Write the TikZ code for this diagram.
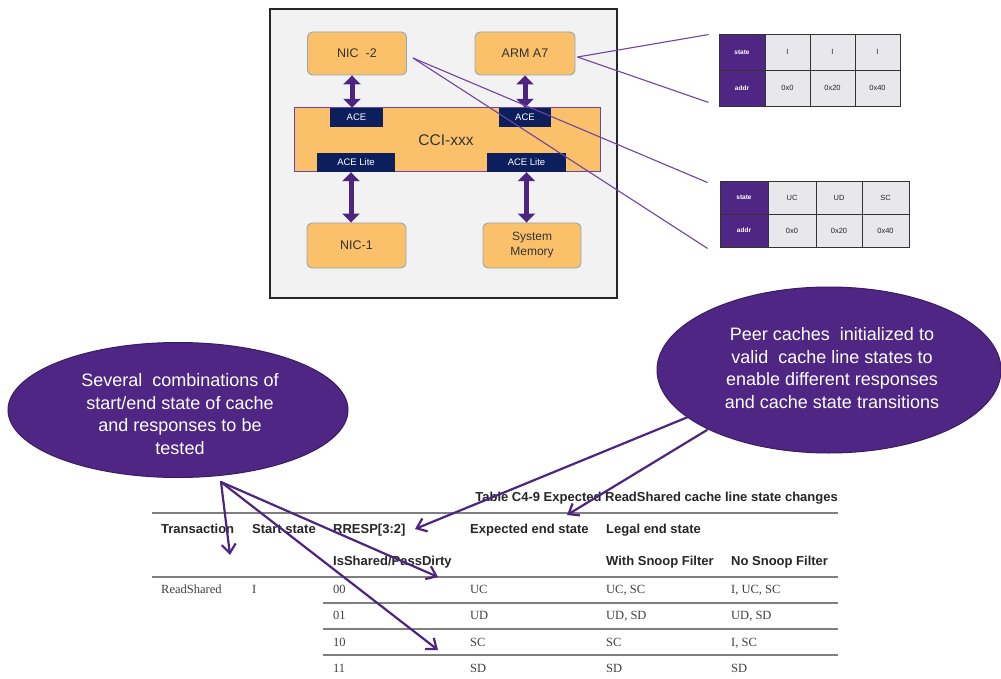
\documentclass[tikz,border=0pt]{standalone}
\usepackage{fontspec}
\setmainfont{Liberation Serif}
\setsansfont{Liberation Sans}
\usetikzlibrary{arrows.meta,shapes.geometric,calc}

\definecolor{panelgray}{HTML}{F2F2F2}
\definecolor{blockfill}{HTML}{FAC06A}
\definecolor{blockedge}{HTML}{8FA9B6}
\definecolor{portnavy}{HTML}{0C1F5C}
\definecolor{linkpurple}{HTML}{4C2580}
\definecolor{thinpurple}{HTML}{6E44A2}
\definecolor{bubblepurple}{HTML}{4F2683}
\definecolor{bubbleedge}{HTML}{3A1C63}
\definecolor{cellgray}{HTML}{E8E8EC}
\definecolor{rulegray}{HTML}{7F7F7F}

\tikzset{
  block/.style={draw=blockedge, line width=0.9pt, fill=blockfill, rounded corners=5pt,
    inner sep=0pt, align=center, text=black!80, font=\sffamily\fontsize{12.5}{14}\selectfont},
  port/.style={fill=portnavy, inner sep=0pt, text=white, font=\sffamily\fontsize{9.5}{11}\selectfont},
  busbar/.style={draw=thinpurple, line width=1pt, fill=blockfill, inner sep=0pt,
    text=black!80, font=\sffamily\fontsize{15.5}{18}\selectfont},
  biarrow/.style={linkpurple, line width=5pt,
    {Triangle[width=17pt,length=9pt]}-{Triangle[width=17pt,length=9pt]}},
  tapline/.style={thinpurple, line width=1.1pt},
  keycell/.style={draw=black!80, line width=0.9pt, fill=bubblepurple, inner sep=0pt,
    text=white, font=\sffamily\bfseries\fontsize{6.5}{7}\selectfont},
  valcell/.style={draw=black!80, line width=0.9pt, fill=cellgray, inner sep=0pt,
    text=black!85, font=\sffamily\fontsize{7.5}{8}\selectfont},
  bubble/.style={ellipse, fill=bubblepurple, draw=bubbleedge, line width=1pt, inner sep=0pt},
  bubbletext/.style={align=center, text=white, inner sep=0pt,
    font=\sffamily\fontsize{18}{22.8}\selectfont},
  pointer/.style={linkpurple, line width=2.2pt, line cap=round,
    -{Straight Barb[length=9pt,width=14pt,line width=2.2pt]}},
  head/.style={anchor=base west, inner sep=0pt, text=black!85,
    font=\sffamily\bfseries\fontsize{13}{15}\selectfont},
  cell/.style={anchor=base west, inner sep=0pt, text=black!75,
    font=\rmfamily\fontsize{12.5}{14}\selectfont},
  rule/.style={rulegray, line width=1.6pt}
}

\begin{document}
\begin{tikzpicture}[x=1pt,y=-1pt]
\useasboundingbox (0,0) rectangle (1001,679);
\fill[white] (0,0) rectangle (1001,679);

% ---------- system block diagram ----------
\draw[black!85, line width=1.6pt, fill=panelgray] (270,9) rectangle (617,298);

\node[block, minimum width=99pt, minimum height=43pt] (nic2) at (357,53.5) {NIC \ -2};
\node[block, minimum width=100pt, minimum height=43pt] (arm) at (525,53.5) {ARM A7};
\node[busbar, minimum width=306pt, minimum height=64pt] (cci) at (447,140) {};
\node[text=black!80, font=\sffamily\fontsize{15.5}{18}\selectfont, inner sep=0pt] (ccilabel) at (446,140) {CCI-xxx};
\node[port, minimum width=53pt, minimum height=19pt] (aceA) at (356.5,117.5) {ACE};
\node[port, minimum width=52pt, minimum height=19pt] (aceB) at (525,117.5) {ACE};
\node[port, minimum width=78pt, minimum height=19pt] (liteA) at (356,162.5) {ACE Lite};
\node[port, minimum width=79pt, minimum height=19pt] (liteB) at (526.5,162.5) {ACE Lite};
\node[block, minimum width=99pt, minimum height=45pt] (nic1) at (356.5,245.5) {NIC-1};
\node[block, minimum width=98pt, minimum height=45pt, font=\sffamily\fontsize{12}{15}\selectfont] (mem) at (532,245.5) {System\\Memory};

\draw[biarrow] ([xshift=-5pt]nic2.south) -- ([xshift=-5pt]nic2.south |- aceA.north);
\draw[biarrow] (arm.south) -- (arm.south |- aceB.north);
\draw[biarrow] ([xshift=-5pt]liteA.south) -- ([xshift=-5pt]liteA.south |- nic1.north);
\draw[biarrow] (liteB.south) -- (liteB.south |- mem.north);

% ---------- cache line tables ----------
\node[keycell, minimum width=46pt, minimum height=36pt] (t1k1) at (742,52) {state};
\node[valcell, minimum width=45pt, minimum height=36pt] (t1a1) at (787.5,52) {I};
\node[valcell, minimum width=45pt, minimum height=36pt] (t1b1) at (832.5,52) {I};
\node[valcell, minimum width=45pt, minimum height=36pt] (t1c1) at (877.5,52) {I};
\node[keycell, minimum width=46pt, minimum height=36pt] (t1k2) at (742,88) {addr};
\node[valcell, minimum width=45pt, minimum height=36pt] (t1a2) at (787.5,88) {0x0};
\node[valcell, minimum width=45pt, minimum height=36pt] (t1b2) at (832.5,88) {0x20};
\node[valcell, minimum width=45pt, minimum height=36pt] (t1c2) at (877.5,88) {0x40};

\node[keycell, minimum width=48pt, minimum height=33pt] (t2k1) at (744,197.5) {state};
\node[valcell, minimum width=48pt, minimum height=33pt] (t2a1) at (792,197.5) {UC};
\node[valcell, minimum width=46pt, minimum height=33pt] (t2b1) at (839,197.5) {UD};
\node[valcell, minimum width=47pt, minimum height=33pt] (t2c1) at (885.5,197.5) {SC};
\node[keycell, minimum width=48pt, minimum height=33pt] (t2k2) at (744,230.5) {addr};
\node[valcell, minimum width=48pt, minimum height=33pt] (t2a2) at (792,230.5) {0x0};
\node[valcell, minimum width=46pt, minimum height=33pt] (t2b2) at (839,230.5) {0x20};
\node[valcell, minimum width=47pt, minimum height=33pt] (t2c2) at (885.5,230.5) {0x40};

% taps from the masters to their cache contents
\draw[tapline] ([xshift=2pt,yshift=-3.5pt]arm.east) -- ([xshift=-10pt,yshift=-1pt]t1k1.north west);
\draw[tapline] ([xshift=2pt,yshift=-3.5pt]arm.east) -- ([xshift=-10pt,yshift=4pt]t1k2.south west);
\draw[tapline] ([xshift=6pt,yshift=-4.5pt]nic2.east) -- ([xshift=-12pt,yshift=-2pt]t2k1.north west);
\draw[tapline] ([xshift=6pt,yshift=-4.5pt]nic2.east) -- ([xshift=-12pt,yshift=-1pt]t2k2.south west);

% ---------- call-outs ----------
\node[bubble, minimum width=340pt, minimum height=135pt] (combos) at (178,410) {};
\node[bubbletext] (combostext) at (180,414)
  {Several \ combinations of\\start/end state of cache\\and responses to be\\tested};
\node[bubble, minimum width=344pt, minimum height=166pt] (peers) at (829,370) {};
\node[bubbletext] (peerstext) at (832,368)
  {Peer caches \ initialized to\\valid \ cache line states to\\enable different responses\\and cache state transitions};

% ---------- state change table ----------
\node[head, anchor=base east] (title) at (838,501.5) {Table C4-9 Expected ReadShared cache line state changes};
\coordinate (ruleL) at (152,513);
\coordinate (ruleR) at (838,513);
\draw[rule] (ruleL) -- (ruleR);

\node[head] (hTrans) at (161,533.5) {Transaction};
\node[head] (hStart) at (252,533.5) {Start state};
\node[head] (hResp)  at (333,533.5) {RRESP[3:2]};
\node[head] (hExp)   at (470,533.5) {Expected end state};
\node[head] (hLegal) at (606,533.5) {Legal end state};
\node[head] (hIsSh)  at (333,565.5) {IsShared/PassDirty};
\node[head] (hWith)  at (606,565.5) {With Snoop Filter};
\node[head] (hNo)    at (731,565.5) {No Snoop Filter};

\coordinate (hdL) at (152,577);
\coordinate (hdR) at (838,577);
\draw[rule] (hdL) -- (hdR);

\node[cell] (rTrans) at (161,593.5) {ReadShared};
\node[cell] (rStart) at (252,593.5) {I};
\node[cell] (r0a) at (333,593.5) {00};
\node[cell] (r0b) at (470,593.5) {UC};
\node[cell] (r0c) at (606,593.5) {UC, SC};
\node[cell] (r0d) at (731,593.5) {I, UC, SC};
\coordinate (s1L) at (323,603); \coordinate (s1R) at (838,603);
\draw[rule] (s1L) -- (s1R);
\node[cell] (r1a) at (333,619.5) {01};
\node[cell] (r1b) at (470,619.5) {UD};
\node[cell] (r1c) at (606,619.5) {UD, SD};
\node[cell] (r1d) at (731,619.5) {UD, SD};
\coordinate (s2L) at (323,629); \coordinate (s2R) at (838,629);
\draw[rule] (s2L) -- (s2R);
\node[cell] (r2a) at (333,646.5) {10};
\node[cell] (r2b) at (470,646.5) {SC};
\node[cell] (r2c) at (606,646.5) {SC};
\node[cell] (r2d) at (731,646.5) {I, SC};
\coordinate (s3L) at (323,655); \coordinate (s3R) at (838,655);
\draw[rule] (s3L) -- (s3R);
\node[cell] (r3a) at (333,672.5) {11};
\node[cell] (r3b) at (470,672.5) {SD};
\node[cell] (r3c) at (606,672.5) {SD};
\node[cell] (r3d) at (731,672.5) {SD};

% ---------- pointers from the call-outs ----------
\coordinate (combosfoot) at (221,482);
\coordinate (toTrans) at (230,555);
\coordinate (toIsSh) at (438,577);
\coordinate (toSC) at (438,650);
\draw[pointer] (combosfoot) -- (toTrans);
\draw[pointer] (combosfoot) -- (toIsSh);
\draw[pointer] (combosfoot) -- (toSC);

\coordinate (peersfootA) at (688,417);
\coordinate (peersfootB) at (707,430);
\coordinate (toResp) at (415,529);
\coordinate (toExp) at (567,515);
\draw[pointer] (peersfootA) -- (toResp);
\draw[pointer] (peersfootB) -- (toExp);
\end{tikzpicture}
\end{document}
